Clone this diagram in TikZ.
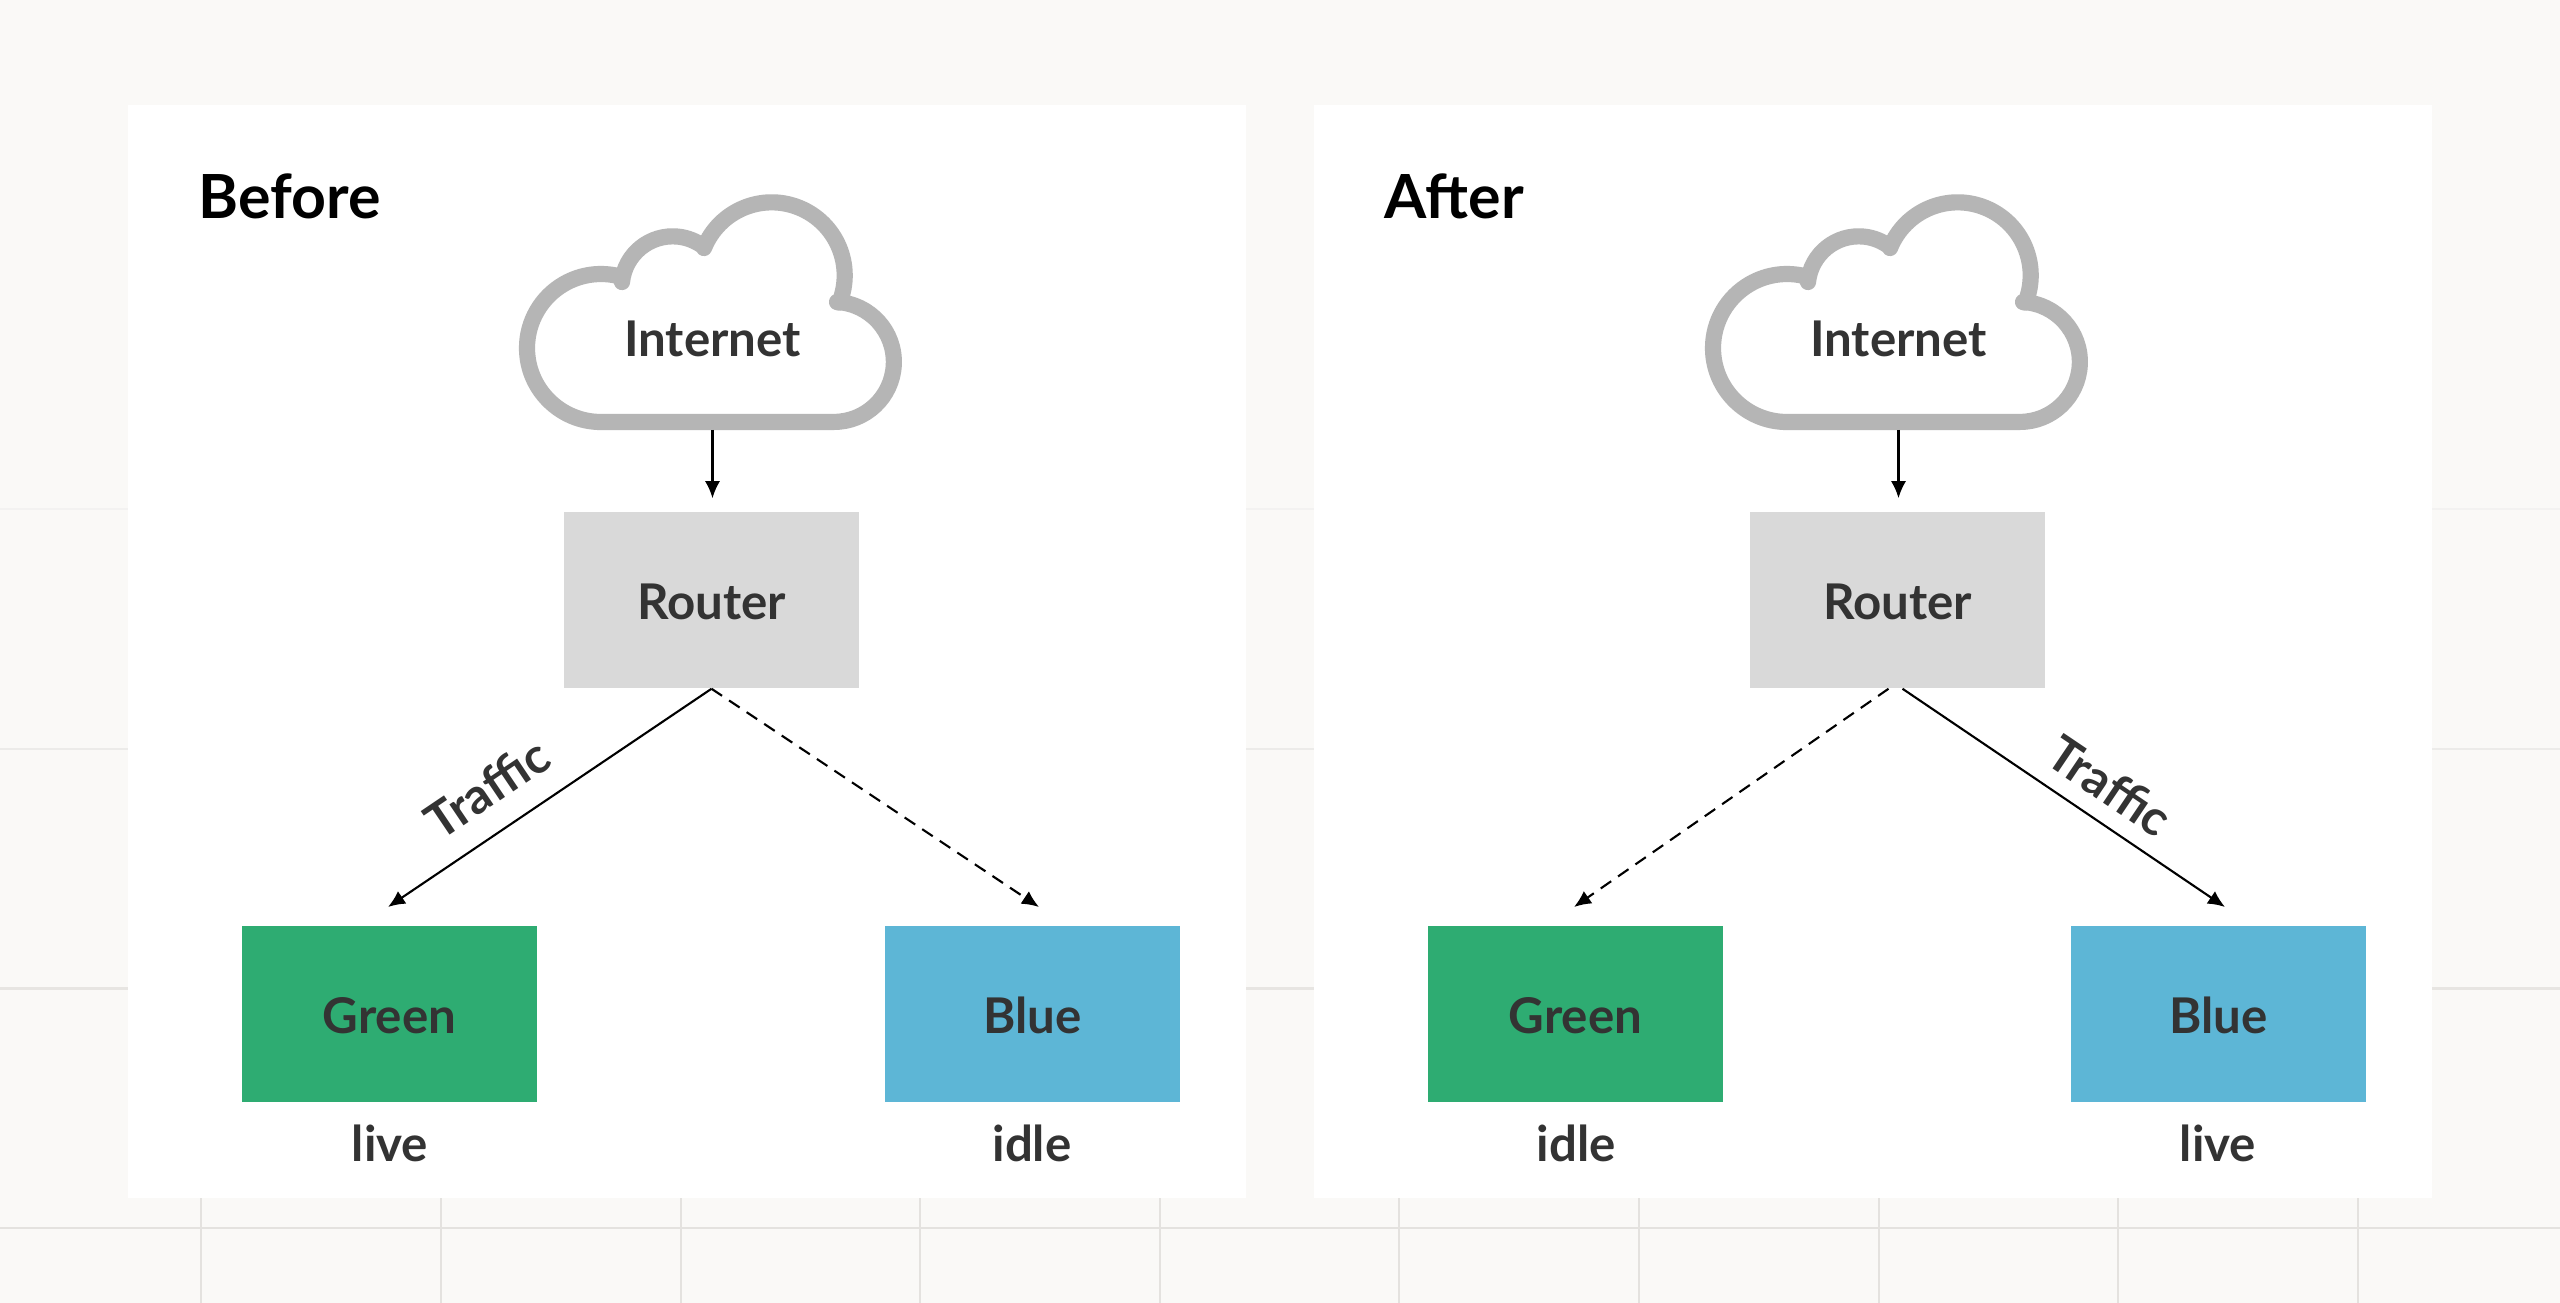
\documentclass[tikz,border=0pt]{standalone}
\usepackage{fontspec}
\usepackage{xcolor}
\usetikzlibrary{positioning, arrows.meta}
\setmainfont{Lato}
\definecolor{page}{HTML}{FAF9F7}
\definecolor{gridline}{HTML}{E4E2DF}
\definecolor{ink}{HTML}{333333}
\definecolor{cloudline}{HTML}{B5B5B5}
\definecolor{routerfill}{HTML}{D9D9D9}
\definecolor{greenfill}{HTML}{2EAC72}
\definecolor{bluefill}{HTML}{5DB6D6}

\begin{document}
\begin{tikzpicture}[x=0.01cm, y=-0.01cm,
  panel/.style={rectangle, fill=white, draw=none, minimum width=11.18cm, minimum height=10.93cm, inner sep=0pt},
  heading/.style={anchor=west, inner sep=0pt, font=\fontsize{17.3}{19}\selectfont\bfseries},
  box/.style={rectangle, draw=none, minimum width=2.95cm, minimum height=1.76cm, inner sep=0pt, text height=3.8mm, text depth=0pt, text=ink, font=\fontsize{14}{16}\selectfont\bfseries},
  cloudtext/.style={rectangle, minimum width=3cm, minimum height=1.81cm, inner sep=0pt, text=ink, font=\fontsize{14}{16}\selectfont\bfseries},
  state/.style={inner sep=0pt, text=ink, font=\fontsize{14}{16}\selectfont\bfseries},
  wire/.style={-{Latex[length=1.7mm, width=1.5mm]}, line width=0.6pt, black},
  idlewire/.style={wire, dash pattern=on 3.6pt off 2.4pt},
  traffic/.style={inner sep=0pt, text=ink, font=\fontsize{14}{16}\selectfont\bfseries}
]
  \fill[page] (0,0) rectangle (2560,1303);
  \useasboundingbox (0,0) rectangle (2560,1303);

  % backdrop grid
  \draw[gridline!45, line width=0.6pt] (0,509) -- (2560,509);
  \draw[gridline!70, line width=0.6pt] (0,749) -- (2560,749);
  \draw[gridline!90, line width=0.7pt] (0,988.5) -- (2560,988.5);
  \draw[gridline, line width=0.8pt] (0,1228) -- (2560,1228);
  \foreach \gx in {201,441,681,920,1160,1399,1639,1879,2118,2358} {
    \draw[gridline, line width=0.8pt] (\gx,1198) -- (\gx,1303);
  }

  % the two panels
  \foreach \p/\dx/\ttl/\gtxt/\btxt in {b/0/Before/live/idle, a/1186/After/idle/live} {
    \begin{scope}[shift={(\dx,0)}]
      \node[panel] (\p-panel) at (687,651.5) {};
      \node[heading] (\p-title) at (198,196) {\ttl};

      \draw[cloudline, fill=white, line width=4.6pt, line join=round]
        (601,422) arc[start angle=90, end angle=285, radius=74]
        -- (622,282) arc[start angle=186, end angle=308, radius=51]
        -- (704,248) arc[start angle=202, end angle=382, radius=73]
        -- (837,302) arc[start angle=273, end angle=450, radius=60]
        -- cycle;

      \node[cloudtext] (\p-internet) at (712.5,338.5) {Internet};
      \node[box, fill=routerfill] (\p-router) at (711.5,600) {Router};
      \node[box, fill=greenfill] (\p-green) at (389.5,1014) {Green};
      \node[box, fill=bluefill] (\p-blue) at (1032.5,1014) {Blue};
      \node[state] (\p-glabel) at (390,1143) {\gtxt};
      \node[state] (\p-blabel) at (1032,1143) {\btxt};

      \coordinate (\p-gtip) at (388,907);
      \coordinate (\p-btip) at (1039,907);
      \draw[wire, shorten >=0.13cm] (\p-internet.south) -- (\p-internet.south |- \p-router.north);
    \end{scope}
  }

  \draw[wire] (b-router.south) -- (b-gtip);
  \draw[idlewire] (b-router.south) -- (b-btip);
  \draw[idlewire] ([xshift=-0.09cm]a-router.south) -- (a-gtip);
  \draw[wire] ([xshift=0.05cm]a-router.south) -- (a-btip);

  \node[traffic, rotate=34] (b-traffic) at (487,788) {Traffic};
  \node[traffic, rotate=-34] (a-traffic) at (2110,786) {Traffic};
\end{tikzpicture}
\end{document}
